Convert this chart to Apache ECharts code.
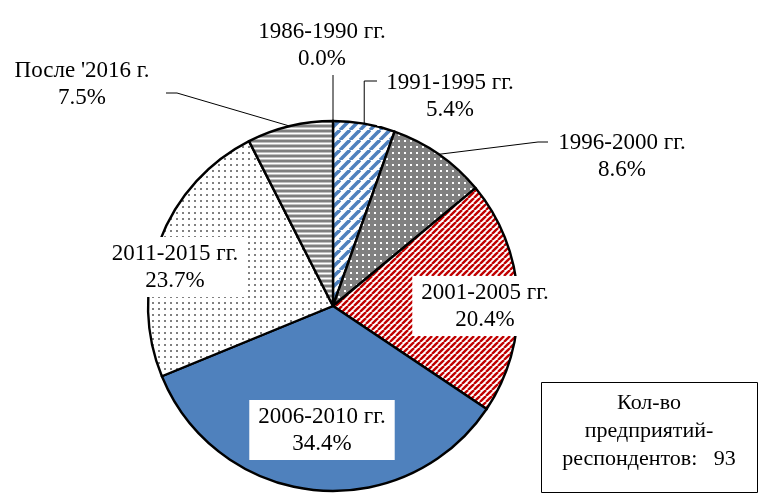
<!DOCTYPE html>
<html>
<head>
<meta charset="utf-8">
<script src="https://cdn.jsdelivr.net/npm/echarts@6/dist/echarts.min.js"></script>
<style>
html, body { margin:0; padding:0; background:#fff; }
#main { width:769px; height:498px; }
</style>
</head>
<body>
<div id="main"></div>
<script>
// данные диаграммы
var categories = ['1986-1990 гг.', '1991-1995 гг.', '1996-2000 гг.', '2001-2005 гг.', '2006-2010 гг.', '2011-2015 гг.', "После '2016 г."];
var shares = [0.0, 5.4, 8.6, 20.4, 34.4, 23.7, 7.5];
var respondents = 93;

// подписи: центр текста и излом выноски (null - подпись внутри)
var labelPos = [
	{x:322, y:45,  bend:null,      end:[333, 70]},
	{x:450, y:96,  bend:'up',      end:[377, 81]},
	{x:622, y:156, bend:[538,142], end:[548, 142]},
	{x:485, y:306, inside:true},
	{x:322, y:430, inside:true},
	{x:175, y:267, inside:true},
	{x:82,  y:84,  bend:[177,93],  end:[166, 93]}
];

function tile(w, h, draw)
{
	var c = document.createElement('canvas');
	c.width = w; c.height = h;
	draw(c.getContext('2d'), w, h);
	return {image:c, repeat:'repeat'};
}

function stripes(size, color, width)
{
	return tile(size, size, function(ctx, w, h){
		ctx.fillStyle = '#fff';
		ctx.fillRect(0, 0, w, h);
		ctx.strokeStyle = color;
		ctx.lineWidth = width;
		for (var k = -1; k <= 1; k++) {
			ctx.beginPath();
			ctx.moveTo(k * w, h);
			ctx.lineTo(k * w + w, 0);
			ctx.stroke();
		}
	});
}

function dots(size, bg, fg)
{
	return tile(size, size, function(ctx, w, h){
		ctx.fillStyle = bg;
		ctx.fillRect(0, 0, w, h);
		ctx.fillStyle = fg;
		ctx.fillRect(2, 2, 2, 2);
	});
}

var hlines = tile(4, 5, function(ctx){
	var rows = ['#7f7f7f', '#7f7f7f', '#bfbfbf', '#ffffff', '#bfbfbf'];
	for (var i = 0; i < rows.length; i++) {
		ctx.fillStyle = rows[i];
		ctx.fillRect(0, i, 4, 1);
	}
});

var fills = [
	'#ffffff',
	stripes(10, '#4f81bd', 3.6),
	dots(6, '#808080', '#ffffff'),
	stripes(6, '#c00000', 2.4),
	'#4f81bd',
	dots(6, '#ffffff', '#808080'),
	hlines
];

var font = 'Liberation Serif';

var pieData = categories.map(function(name, i){
	var item = {name:name, value:shares[i], itemStyle:{color:fills[i]}};
	if (labelPos[i].inside) {
		item.labelLine = {show:false};
	}
	return item;
});

var chart = echarts.init(document.getElementById('main'));
var option = {
	animation:false,
	backgroundColor:'#fff',
	series:[
		{
			type:'pie',
			center:[333, 306],
			radius:185,
			startAngle:90,
			clockwise:true,
			avoidLabelOverlap:false,
			data:pieData,
			itemStyle:{borderColor:'#000', borderWidth:2.4},
			emphasis:{disabled:true},
			label:{
				show:true,
				fontFamily:font,
				fontSize:23,
				lineHeight:27,
				color:'#000',
				backgroundColor:'#fff',
				padding:[3, 9],
				formatter:function(p){
					return p.name + '\n' + p.value.toFixed(1) + '%';
				}
			},
			labelLine:{show:true, length:10, length2:10, lineStyle:{color:'#000', width:1}},
			labelLayout:function(params){
				var pos = labelPos[params.dataIndex];
				var res = {x:pos.x, y:pos.y, align:'center', verticalAlign:'middle'};
				if (!pos.inside && params.labelLinePoints) {
					var p0 = params.labelLinePoints[0];
					var pts;
					if (pos.bend === 'up') {
						pts = [p0, [p0[0], pos.end[1]], pos.end];
					}
					else if (pos.bend) {
						pts = [p0, pos.bend, pos.end];
					}
					else {
						pts = [p0, [p0[0], pos.end[1]], [p0[0], pos.end[1]]];
					}
					res.labelLinePoints = pts;
				}
				return res;
			}
		}
	],
	graphic:[
		{
			type:'rect',
			left:541,
			top:382,
			shape:{width:216, height:110},
			style:{fill:'#fff', stroke:'#000', lineWidth:1}
		},
		{
			type:'text',
			x:649,
			y:431,
			style:{
				text:'Кол-во\nпредприятий-\nреспондентов:   ' + respondents,
				font:'22px "' + font + '"',
				lineHeight:28,
				fill:'#000',
				align:'center',
				verticalAlign:'middle'
			}
		}
	]
};
chart.setOption(option);
</script>
</body>
</html>
